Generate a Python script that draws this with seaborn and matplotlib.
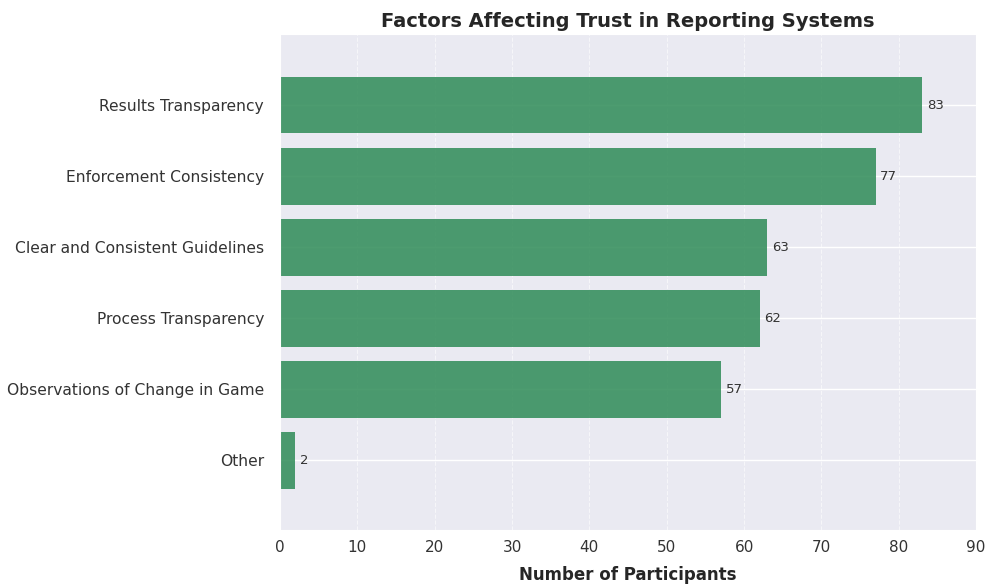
import pandas as pd
import matplotlib.pyplot as plt
import seaborn as sns

# Data
factors = ['Results Transparency', 'Enforcement Consistency', 'Clear and Consistent Guidelines',
           'Process Transparency', 'Observations of Change in Game', 'Other']
participants = [83, 77, 63, 62, 57, 2]

df = pd.DataFrame({'factor': factors, 'count': participants})

sns.set_style('darkgrid')
plt.rcParams['font.family'] = ['DejaVu Sans']

fig, ax = plt.subplots(figsize=(9.91, 5.86), dpi=100)
fig.subplots_adjust(left=0.2825, right=0.985, top=0.942, bottom=0.0956)

sns.barplot(data=df, y='factor', x='count', orient='h', color='seagreen',
            alpha=0.85, width=0.8, saturation=1, linewidth=0, ax=ax)

# value labels
for i, v in enumerate(df['count']):
    ax.text(v + 0.6, i, str(v), va='center', ha='left', fontsize=9.5, color='#333333')

ax.set_xlim(0, 90)
ax.set_ylim(5.98, -1)
ax.set_xticks(range(0, 91, 10))
ax.grid(axis='y', color='white', linestyle='-', linewidth=1)
ax.grid(axis='x', linestyle='--', alpha=0.6)
ax.set_axisbelow(True)
ax.set_title('Factors Affecting Trust in Reporting Systems', fontsize=14, fontweight='bold',
             color='#262626', pad=5)
ax.set_xlabel('Number of Participants', fontsize=12, fontweight='bold', color='#262626',
              labelpad=8)
ax.set_ylabel('')
ax.tick_params(labelsize=11, labelcolor='#333333')
ax.tick_params(axis='y', labelsize=11.2, pad=8)

plt.savefig('out.png', dpi=100)
